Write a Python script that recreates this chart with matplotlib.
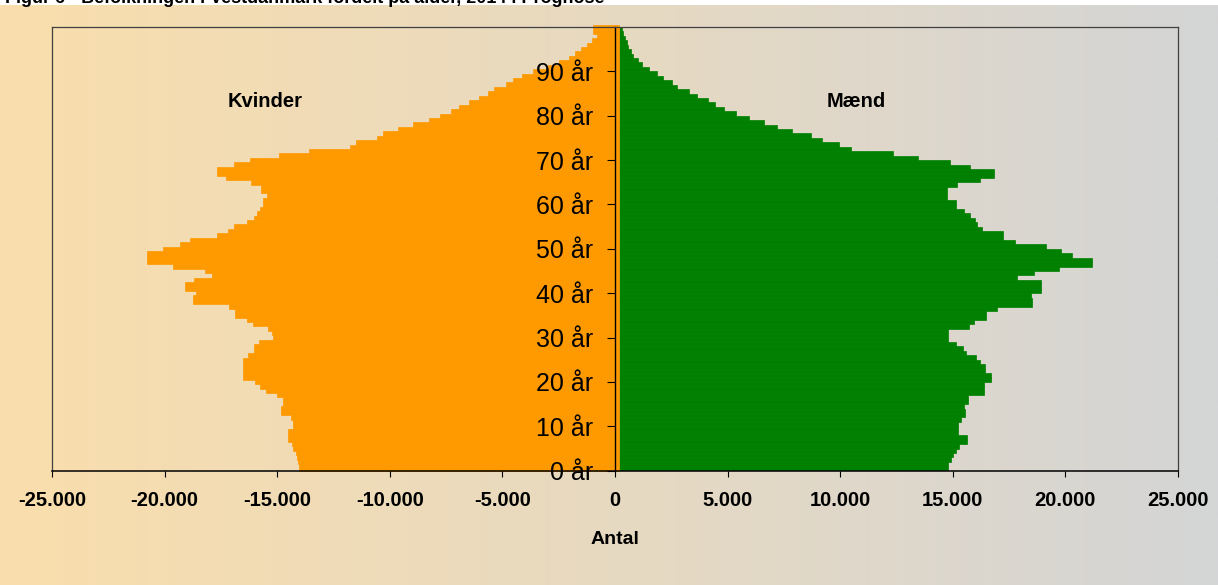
import numpy as np
import matplotlib
matplotlib.use('Agg')
import matplotlib.pyplot as plt
from matplotlib.ticker import FuncFormatter

plt.rcParams['font.family'] = ['Liberation Sans', 'DejaVu Sans']

# alder 0..99
ages = np.arange(100)

kvinder = np.array([
    -14020, -14060, -14110, -14180, -14280, -14360, -14510, -14510, -14510, -14310,
    -14310, -14400, -14850, -14850, -14730, -14760, -15020, -15500, -15760, -15990,
    -16500, -16500, -16500, -16500, -16500, -16280, -16030, -16030, -15810, -15200,
    -15250, -15420, -16090, -16350, -16870, -16870, -17130, -18730, -18730, -18610,
    -19090, -19090, -18690, -17900, -18190, -19610, -20800, -20800, -20800, -20090,
    -19320, -18870, -17660, -17170, -16900, -16350, -16030, -15910, -15760, -15620,
    -15620, -15470, -15710, -15710, -16180, -17270, -17660, -17660, -16900, -16210,
    -14910, -13570, -11770, -11500, -10580, -10320, -9620, -8960, -8260, -7770,
    -7280, -6910, -6470, -6040, -5620, -5370, -4840, -4510, -4140, -3630,
    -2960, -2470, -2030, -1780, -1510, -1260, -1030, -790, -960, -960])

maend = np.array([
    14800, 14800, 14910, 15000, 15130, 15290, 15620, 15620, 15240, 15240,
    15240, 15360, 15540, 15540, 15500, 15660, 15660, 16390, 16390, 16390,
    16680, 16680, 16430, 16430, 16210, 16020, 15590, 15440, 15140, 14770,
    14800, 14800, 15730, 15960, 16470, 16470, 16980, 18500, 18500, 18460,
    18920, 18920, 18920, 17870, 18610, 19730, 21170, 21170, 20280, 19800,
    19140, 17760, 17240, 17240, 16280, 16090, 15990, 15760, 15500, 15130,
    15130, 14730, 14730, 14730, 15170, 16210, 16830, 16830, 15760, 14880,
    13470, 12330, 10460, 9930, 9190, 8720, 7860, 7180, 6620, 5970,
    5360, 4840, 4460, 4140, 3660, 3270, 2770, 2550, 2150, 1850,
    1520, 1210, 1040, 810, 700, 590, 520, 440, 340, 300])

xticks = np.arange(-25000, 25001, 5000)
yticks = np.arange(0, 91, 10)
ylabels = [f"{a} år" for a in yticks]

title = "Figur 6 - Befolkningen i Vestdanmark fordelt på alder, 2014 i Prognose"

ORANGE = '#FF9900'
GREEN = '#008000'
STRIP = 170  # orange band just right of the axis

fig = plt.figure(figsize=(12.18, 5.85), dpi=100)

# background gradient
bg = fig.add_axes([0, 0, 1, 580 / 585])
left_c = np.array([250, 222, 172]) / 255
right_c = np.array([212, 213, 214]) / 255
t = np.linspace(0, 1, 512)[:, None]
grad = (left_c * (1 - t) + right_c * t)[None, :, :]
bg.imshow(grad, aspect='auto', extent=[0, 1, 0, 1])
bg.axis('off')

ax = fig.add_axes([52 / 1218, 1 - 470.7 / 585, 1126 / 1218, 443.7 / 585])
ax.set_facecolor('none')

ax.barh(ages, maend, height=1, align='edge', color=GREEN, ec=GREEN, lw=0.5)

w_bottom = ages + 0.5
w_height = np.ones(len(ages))
w_bottom[0] = 0
w_height[0] = 1.5
ax.barh(w_bottom, kvinder - STRIP, left=STRIP, height=w_height, align='edge',
        color=ORANGE, ec=ORANGE, lw=0.5, clip_on=False)

ax.set_xlim(-25000, 25000)
ax.set_ylim(0, 100)

for s in ['top', 'right']:
    ax.spines[s].set_color('#404040')
    ax.spines[s].set_linewidth(0.9)
ax.spines['bottom'].set_color('black')
ax.spines['bottom'].set_linewidth(1.1)
ax.spines['left'].set_position(('data', 0))
ax.spines['left'].set_color('black')
ax.spines['left'].set_linewidth(1.0)
ax.plot([0, 0], [0, 1], transform=ax.transAxes, color='#404040', lw=0.9, clip_on=False)

ax.set_xticks(xticks)
ax.xaxis.set_major_formatter(FuncFormatter(lambda v, p: f"{int(v):,}".replace(',', '.')))
ax.tick_params(axis='x', direction='out', length=4.5, width=0.8, pad=10, labelsize=14.5)
for lab in ax.get_xticklabels():
    lab.set_fontweight('bold')

ax.set_yticks(yticks)
ax.set_yticklabels(ylabels)
ax.tick_params(axis='y', direction='out', length=6, width=0.8, pad=10, labelsize=18)

ax.set_xlabel('Antal', fontsize=14, fontweight='bold', labelpad=15)

fig.text(265 / 1218, 1 - 101.7 / 585, 'Kvinder', ha='center', va='center',
         fontsize=14.5, fontweight='bold')
fig.text(856.7 / 1218, 1 - 101.7 / 585, 'Mænd', ha='center', va='center',
         fontsize=14.5, fontweight='bold')
fig.text(5 / 1218, 1 - 3.3 / 585, title, ha='left', va='baseline',
         fontsize=13, fontweight='bold')

fig.savefig('out.png', dpi=100)
